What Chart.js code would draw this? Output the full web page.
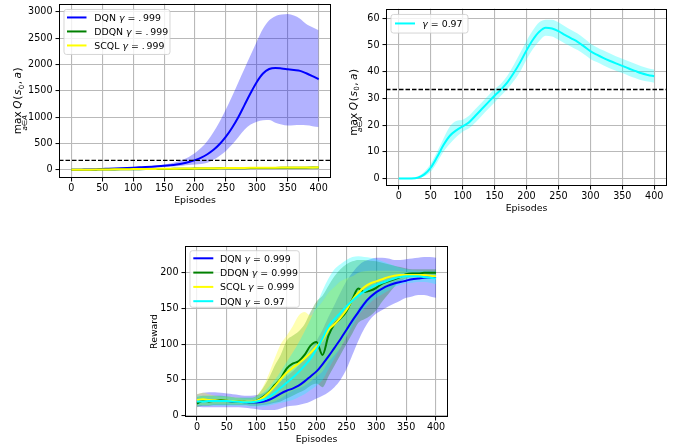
<!DOCTYPE html>
<html>
<head>
<meta charset="utf-8">
<title>Q values and rewards</title>
<script src="https://cdn.jsdelivr.net/npm/chart.js@4.4.0/dist/chart.umd.min.js"></script>
<style>
    body { margin: 0; background: #fff; width: 676px; height: 446px; position: relative; overflow: hidden; }
    canvas { position: absolute; }
    #qBig { left: 0; top: -5px; }
    #qSmall { left: 340px; top: 0; }
    #reward { left: 140px; top: 230px; }
</style>
</head>
<body>
<canvas id="qBig" width="340" height="220"></canvas>
<canvas id="qSmall" width="336" height="220"></canvas>
<canvas id="reward" width="320" height="216"></canvas>
<script>
// episodes (every 10th)
const episodes = [0,10,20,30,40,50,60,70,80,90,100,110,120,130,140,150,160,170,180,190,200,
                  210,220,230,240,250,260,270,280,290,300,310,320,330,340,350,360,370,380,390,400];
const xTicks = [0,50,100,150,200,250,300,350,400];

// top left: max Q, gamma = .999
const qBigTicks = [0,500,1000,1500,2000,2500,3000];
const trueQ999 = 181.3;
const dqnQMean  = [0,2,5,8,12,17,22,27,32,37, 42,47,52,58,66,76,88,103,122,148, 185,232,296,380,490,630,800,1000,1230,1460, 1670,1830,1915,1935,1925,1910,1895,1880,1835,1780, 1720];
const dqnQUpper = [0,3,7,11,16,22,28,34,40,46, 52,58,65,74,85,100,122,150,190,245, 320,420,550,720,920,1150,1400,1660,1920,2180, 2440,2680,2840,2920,2950,2960,2930,2870,2770,2710, 2650];
const dqnQLower = [0,1,3,5,8,12,16,20,24,28, 32,36,40,44,49,55,62,70,80,92, 100,110,135,190,270,360,480,620,760,860, 915,940,945,895,860,840,845,850,845,830, 815];
const ddqnQMean  = [0,1,2,3,4,5,6.5,8,9.5,11, 12,13,14,15,16,17,18,19.5,21,22.5, 24,25,26,27,28,29,30,31,32,33, 34,35,36,37,38,39,40,41,42,42.5, 43];
const ddqnQUpper = [1,2,3.5,5,6,7.5,9,11,12.5,14, 15.5,17,18,19.5,21,22,23.5,25,27,28.5, 30,31.5,32.5,34,35,36.5,37.5,39,40,41.5, 42.5,44,45,46,47.5,48.5,49.5,50.5,52,52.5, 53];
const ddqnQLower = [0,0.5,1,1.5,2.5,3,4,5,6.5,8, 9,10,10.5,11.5,12,13,13.5,14.5,16,17, 18,19,20,20.5,21.5,22,23,24,25,25.5, 26,27,28,29,29.5,30.5,31,32,33,33.5, 34];
const scqlQMean  = [0,1,2.5,4,5,6,7.5,9,10.5,12, 14,15,16,17,18.5,20,21,22.5,24,25.5, 27,28,29,30.5,32,33,34,35.5,37,38, 39,40,41,42,43,44,44.5,45,46,46.5, 47];
const scqlQUpper = [1,2,4,5.5,7,8,10,11.5,13,15, 17,18,19.5,20.5,22,24,25,27,28.5,30, 32,33,34.5,36,37.5,39,40,41.5,43,44.5, 45.5,47,48,49,50,51.5,52,53,54,54.5, 55];
const scqlQLower = [0,0.5,1.5,2.5,3.5,4.5,5.5,7,8,9.5, 11,12,13,14,15,16.5,17,18.5,19.5,21, 22,23,24,25,26.5,27.5,28,29.5,31,32, 33,33.5,34.5,35.5,36,37,37.5,38,38.5,39, 39.5];

// top right: max Q, gamma = 0.97
const qSmallTicks = [0,10,20,30,40,50,60];
const trueQ97 = 33.33;
const dqn97QMean  = [0,0,0,0.3,1.5,4,8,12.5,16,18, 19.5,21,23.5,26,28.5,31,33.3,36,39.5,43.5, 48,52,55,56.5,56.2,55.2,53.8,52.5,51.2,49.5, 47.7,46.4,45.2,44.1,43.1,42.2,41.2,40.3,39.4,38.8, 38.3];
const dqn97QUpper = [0.2,0.2,0.3,0.8,2.5,5.5,10,15,19.5,21.5, 22,23.5,26,28.5,31,33.5,35.5,38.5,42.5,47, 51.5,55.5,58.5,59.5,59.5,58.5,57,55.6,54.3,52.5, 50.6,49.2,48,46.9,45.8,44.9,43.9,43,42,41.3, 40.8];
const dqn97QLower = [-0.2,-0.2,-0.2,0,0.8,2.5,6,10,13,15.5, 17.5,18.8,21,23.5,26,28.5,31,33.5,36.5,40, 44.5,48.5,51.5,53.5,53.2,52,50.6,49.4,48.1,46.5, 44.8,43.6,42.4,41.3,40.4,39.5,38.5,37.6,36.8,36.3, 35.9];

// bottom: reward
const rewardTicks = [0,50,100,150,200];
const dqnRewMean  = [20,21,21,21,21,20.5,20,19.5,19,18.5, 18.5,19.5,22,26,31,35,38,42,48,55, 62,72,83,95,107,120,133,145,157,166, 173,178,182,185,187,189,191,192,193,193, 193];
const dqnRewUpper = [30,32,33,33,32,31,30,29,28,28, 29,31,36,42,48,55,62,70,80,92, 105,120,138,155,172,188,200,210,216,219, 221,221,220,218,218,219,220,221,222,222, 221];
const dqnRewLower = [13,12,12,12,12,12,12,12,11,10, 9,8,8,8,10,13,14,15,17,20, 24,28,33,40,50,65,85,105,122,135, 143,148,153,157,161,165,167,169,169,167, 165];
const ddqnRewMean  = [17,21,20,21,22,21,20,20,19.5,19, 21,26,33,43,52,66,73,76,85,98, 103,85,112,128,136,146,163,178,173,175, 179,185,188,191,194,198,199,199,200,200, 200];
const ddqnRewUpper = [26,28,28,28,28,27,26,25,25,25, 28,38,52,70,85,105,112,118,128,145, 160,168,182,195,205,212,216,218,218,217, 216,214,212,210,208,206,205,205,205,205, 205];
const ddqnRewLower = [12,14,14,15,15,15,15,15,15,14, 14,15,16,18,20,24,28,32,36,42, 45,40,55,70,85,100,115,130,135,140, 148,160,170,180,188,192,194,194,195,195, 195];
const scqlRewMean  = [22,23,22,21.5,21,21,20.5,20,19.5,19.5, 21,25,32,41,51,60,67,73,80,88, 97,106,120,128,137,148,162,172,180,185, 188,191,194,196,197,197,197,197,197,196, 195];
const scqlRewUpper = [30,32,30,28,27,27,26,25,24,24, 28,40,58,80,100,112,125,140,145,140, 150,160,172,180,188,192,195,200,202,203, 203,203,203,203,202,201,200,200,200,200, 199];
const scqlRewLower = [15,15,15,16,16,16,16,16,16,16, 16,17,18,20,24,30,35,38,42,48, 55,62,75,85,95,110,130,150,160,168, 173,178,184,188,191,192,193,193,193,192, 191];
const dqn97RewMean  = [20,20,20.5,20.5,20.5,20.5,20,19.5,19,19, 20,22,26,32,39,46,53,61,70,80, 93,108,125,135,144,153,161,168,174,179, 183,186,189,192,194,195,195,195,194,193, 192];
const dqn97RewUpper = [28,28,28,28,28,27,26,25,25,25, 27,32,40,50,62,75,88,102,118,135, 155,175,192,205,212,218,222,223,222,221, 219,216,213,210,207,205,204,203,203,202, 202];
const dqn97RewLower = [14,14,14,14,14,14,14,14,14,13, 13,13,14,16,18,20,22,26,30,36, 42,50,65,80,95,110,125,140,150,158, 165,170,175,180,183,185,186,187,187,186, 184];

const FAM = '"DejaVu Sans"';
const N = '9.4px ' + FAM, I = 'italic 9.4px ' + FAM;
const MN = '10.5px ' + FAM, MI = 'italic 10.5px ' + FAM;
const NS = '7.2px ' + FAM, IS = 'italic 7.2px ' + FAM;
const GRID = '#b9b9b9';

function pts(vals) {
    return vals.map((v, i) => ({x: episodes[i], y: v}));
}

function addBand(list, upper, lower, fillColor, layer) {
    const upIdx = list.length;
    list.push({data: pts(upper), borderWidth: 0, borderColor: 'rgba(0,0,0,0)', pointRadius: 0, fill: false, order: -layer});
    list.push({data: pts(lower), borderWidth: 0, borderColor: 'rgba(0,0,0,0)', pointRadius: 0, fill: upIdx,
               backgroundColor: fillColor, order: -layer});
}

function addLine(list, mean, color, layer) {
    list.push({data: pts(mean), borderColor: color, borderWidth: 2, pointRadius: 0, fill: false, order: -layer});
}

function axis(which, min, max, ticks, size) {
    return {
        type: 'linear', min: min, max: max,
        afterBuildTicks: s => { s.ticks = ticks.map(v => ({value: v})); },
        afterFit: s => { if (which === 'x') s.height = size; else s.width = size; },
        grid: {color: GRID, lineWidth: 1.1, tickColor: '#000', tickWidth: 1, tickLength: 3.5},
        border: {display: false},
        ticks: {color: '#000', font: {family: 'DejaVu Sans', size: 9.6}, padding: which === 'x' ? 1 : 3,
                maxRotation: 0, autoSkip: false, callback: v => String(v)}
    };
}

// draw a list of text runs along the baseline, returns width
function runs(ctx, list, x, y, draw) {
    let cx = x;
    list.forEach(r => {
        ctx.font = r.f;
        let w = ctx.measureText(r.t).width;
        let wu = 0;
        if (r.under) wu = runs(ctx, r.under, 0, 0, false);
        const box = Math.max(w, wu);
        if (draw) {
            ctx.font = r.f;
            ctx.fillText(r.t, cx + (box - w) / 2, y + (r.dy || 0));
            if (r.under) runs(ctx, r.under, cx + (box - wu) / 2, y + 5.5, true);
        }
        cx += box + (r.gap || 0);
    });
    return cx - x;
}

function decor(opt) {
    return {
        id: 'decor',
        afterDatasetsDraw(chart) {
            const ctx = chart.ctx, a = chart.chartArea, ys = chart.scales.y;
            ctx.save();
            if (opt.refLine !== undefined) {
                const y = ys.getPixelForValue(opt.refLine);
                ctx.strokeStyle = '#000';
                ctx.lineWidth = 1.3;
                ctx.setLineDash([4.5, 2]);
                ctx.beginPath();
                ctx.moveTo(a.left, y);
                ctx.lineTo(a.right, y);
                ctx.stroke();
                ctx.setLineDash([]);
            }
            // frame
            ctx.strokeStyle = '#000';
            ctx.lineWidth = 1;
            ctx.strokeRect(Math.round(a.left) + 0.5, Math.round(a.top) + 0.5,
                           Math.round(a.right - a.left) - 1, Math.round(a.bottom - a.top) - 1);
            // legend
            const lg = opt.legend;
            const x0 = a.left + lg.x, y0 = a.top + lg.y;
            ctx.beginPath();
            ctx.roundRect(x0, y0, lg.w, lg.h, 2.5);
            ctx.fillStyle = 'rgba(255,255,255,0.8)';
            ctx.fill();
            ctx.strokeStyle = 'rgba(204,204,204,0.8)';
            ctx.stroke();
            ctx.textBaseline = 'alphabetic';
            lg.items.forEach((it, i) => {
                const y = y0 + lg.row0 + i * lg.rowGap;
                ctx.strokeStyle = it.color;
                ctx.lineWidth = 2;
                ctx.beginPath();
                ctx.moveTo(x0 + lg.h0, y);
                ctx.lineTo(x0 + lg.h1, y);
                ctx.stroke();
                ctx.fillStyle = '#000';
                runs(ctx, it.text, x0 + lg.tx, y + 3.4, true);
            });
            ctx.restore();
        },
        afterDraw(chart) {
            const ctx = chart.ctx, a = chart.chartArea;
            ctx.save();
            ctx.fillStyle = '#000';
            ctx.textBaseline = 'alphabetic';
            ctx.font = N;
            ctx.textAlign = 'center';
            ctx.fillText('Episodes', (a.left + a.right) / 2, a.bottom + 25);
            ctx.textAlign = 'left';
            ctx.translate(a.left + opt.yLab.dx, a.top + opt.yLab.cy);
            ctx.rotate(-Math.PI / 2);
            const w = runs(ctx, opt.yLab.text, 0, 0, false);
            runs(ctx, opt.yLab.text, -w / 2, 0, true);
            ctx.restore();
        }
    };
}

function build(id, opt, datasets) {
    new Chart(document.getElementById(id), {
        type: 'line',
        data: {datasets: datasets},
        options: {
            responsive: false,
            animation: false,
            layout: {padding: opt.padding, autoPadding: false},
            elements: {line: {cubicInterpolationMode: 'monotone'}},
            plugins: {legend: {display: false}, tooltip: {enabled: false}},
            scales: {
                x: axis('x', -20, 420, xTicks, opt.xH),
                y: axis('y', opt.yMin, opt.yMax, opt.yTicks, opt.yW)
            }
        },
        plugins: [decor(opt)]
    });
}

const qLabel = [
    {t: 'max', f: MN, gap: 2.5, under: [{t: 'a', f: IS}, {t: '\u2208', f: NS}, {t: 'A', f: IS}]},
    {t: 'Q', f: MI, gap: 0.8}, {t: '(', f: MN, gap: 0.6}, {t: 's', f: MI, gap: 0.3}, {t: '0', f: NS, dy: 2.5, gap: 0.6},
    {t: ',', f: MN, gap: 2.4}, {t: 'a', f: MI, gap: 0.6}, {t: ')', f: MN}
];
function gLabel(name, val) {
    return [{t: name, f: N}, {t: '\u03b3', f: I}, {t: ' = ' + val, f: N}];
}

// top left
const dsBig = [];
addBand(dsBig, dqnQUpper, dqnQLower, 'rgba(0,0,255,0.3)', 1);
addBand(dsBig, ddqnQUpper, ddqnQLower, 'rgba(0,128,0,0.3)', 2);
addBand(dsBig, scqlQUpper, scqlQLower, 'rgba(255,255,0,0.3)', 3);
addLine(dsBig, dqnQMean, '#0000ff', 4);
addLine(dsBig, ddqnQMean, '#008000', 5);
addLine(dsBig, scqlQMean, '#ffff00', 6);
build('qBig', {
    padding: {left: 0, right: 9, top: 4, bottom: 0}, xH: 37, yW: 59,
    yMin: -155, yMax: 3155, yTicks: qBigTicks, refLine: trueQ999,
    yLab: {dx: -38, cy: 97, text: qLabel},
    legend: {x: 5, y: 5.7, w: 106, h: 45, row0: 8, rowGap: 14, h0: 3, h1: 22.5, tx: 30.3,
             items: [{color: '#0000ff', text: gLabel('DQN ', '.\u2009999')},
                     {color: '#008000', text: gLabel('DDQN ', '.\u2009999')},
                     {color: '#ffff00', text: gLabel('SCQL ', '.\u2009999')}]}
}, dsBig);

// top right
const dsSmall = [];
addBand(dsSmall, dqn97QUpper, dqn97QLower, 'rgba(0,255,255,0.3)', 1);
addLine(dsSmall, dqn97QMean, '#00ffff', 2);
build('qSmall', {
    padding: {left: 0, right: 9, top: 3, bottom: 0}, xH: 34, yW: 46,
    yMin: -2.85, yMax: 63.6, yTicks: qSmallTicks, refLine: trueQ97,
    yLab: {dx: -29.5, cy: 93.5, text: qLabel},
    legend: {x: 5, y: 5.7, w: 77, h: 18.6, row0: 9, rowGap: 14, h0: 4, h1: 24, tx: 31.3,
             items: [{color: '#00ffff', text: [{t: '\u03b3', f: I}, {t: ' = 0.97', f: N}]}]}
}, dsSmall);

// bottom
const dsRew = [];
addBand(dsRew, dqnRewUpper, dqnRewLower, 'rgba(0,0,255,0.3)', 1);
addBand(dsRew, ddqnRewUpper, ddqnRewLower, 'rgba(0,128,0,0.3)', 2);
addBand(dsRew, scqlRewUpper, scqlRewLower, 'rgba(255,255,0,0.3)', 3);
addBand(dsRew, dqn97RewUpper, dqn97RewLower, 'rgba(0,255,255,0.3)', 4);
addLine(dsRew, dqnRewMean, '#0000ff', 5);
addLine(dsRew, ddqnRewMean, '#008000', 6);
addLine(dsRew, scqlRewMean, '#ffff00', 7);
addLine(dsRew, dqn97RewMean, '#00ffff', 8);
build('reward', {
    padding: {left: 0, right: 12, top: 16, bottom: 0}, xH: 29, yW: 45,
    yMin: -1.8, yMax: 237.5, yTicks: rewardTicks,
    yLab: {dx: -28, cy: 85.5, text: [{t: 'Reward', f: N}]},
    legend: {x: 5, y: 4.7, w: 109.3, h: 56.6, row0: 7.6, rowGap: 14.3, h0: 3.3, h1: 23.3, tx: 30,
             items: [{color: '#0000ff', text: gLabel('DQN ', '0.999')},
                     {color: '#008000', text: gLabel('DDQN ', '0.999')},
                     {color: '#ffff00', text: gLabel('SCQL ', '0.999')},
                     {color: '#00ffff', text: gLabel('DQN ', '0.97')}]}
}, dsRew);
</script>
</body>
</html>
